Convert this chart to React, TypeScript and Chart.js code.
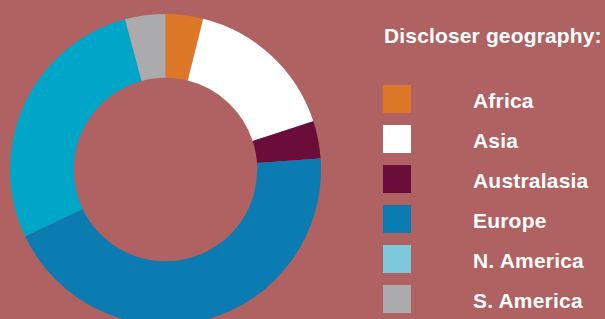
import React, { useEffect, useRef } from "react";
import { Chart, registerables } from "chart.js";

Chart.register(...registerables);

const categories = ["Africa", "Asia", "Australasia", "Europe", "N. America", "S. America"];
const shares = [3.9, 16.1, 3.9, 44.1, 27.9, 4.2];
const sliceColors = ["#DD7828", "#FFFFFF", "#6B0D3A", "#0A7CB2", "#00A6C8", "#ABABAE"];
const legendColors = ["#DD7828", "#FFFFFF", "#6B0D3A", "#0A7CB2", "#7EC8DC", "#ABABAE"];
const legendTitle = "Discloser geography:";

const BG = "#B06161";
const FONT = '"Liberation Sans", Arial, Helvetica, sans-serif';

export default function App() {
  const canvasRef = useRef<HTMLCanvasElement | null>(null);

  useEffect(() => {
    const ctx = canvasRef.current;
    if (!ctx) return;
    const chart = new Chart(ctx, {
      type: "doughnut",
      data: {
        labels: categories,
        datasets: [
          {
            data: shares,
            backgroundColor: sliceColors,
            borderWidth: 0,
            hoverOffset: 0,
          },
        ],
      },
      options: {
        animation: false,
        responsive: false,
        maintainAspectRatio: false,
        cutout: "59%",
        layout: { padding: 0 },
        plugins: {
          legend: { display: false },
          tooltip: { enabled: false },
        },
      },
    });
    return () => chart.destroy();
  }, []);

  return (
    <div
      style={{
        position: "fixed",
        left: 0,
        top: 0,
        width: 605,
        height: 319,
        overflow: "hidden",
        background: BG,
        fontFamily: FONT,
        fontWeight: "bold",
        color: "#FFFFFF",
      }}
    >
      <canvas
        ref={canvasRef}
        width={311}
        height={311}
        style={{ position: "absolute", left: 10, top: 14, width: 311, height: 311 }}
      />
      <div
        style={{
          position: "absolute",
          left: 384,
          top: 23.5,
          fontSize: 21,
          letterSpacing: "0.15px",
          lineHeight: "normal",
          whiteSpace: "nowrap",
        }}
      >
        {legendTitle}
      </div>
      {categories.map((c, i) => (
        <React.Fragment key={c}>
          <div
            style={{
              position: "absolute",
              left: 383,
              top: 85 + 40 * i,
              width: 28,
              height: 28,
              background: legendColors[i],
            }}
          />
          <div
            style={{
              position: "absolute",
              left: 473,
              top: 88.5 + 40 * i,
              fontSize: 21,
              letterSpacing: "0.2px",
              lineHeight: "normal",
              whiteSpace: "nowrap",
            }}
          >
            {c}
          </div>
        </React.Fragment>
      ))}
    </div>
  );
}
